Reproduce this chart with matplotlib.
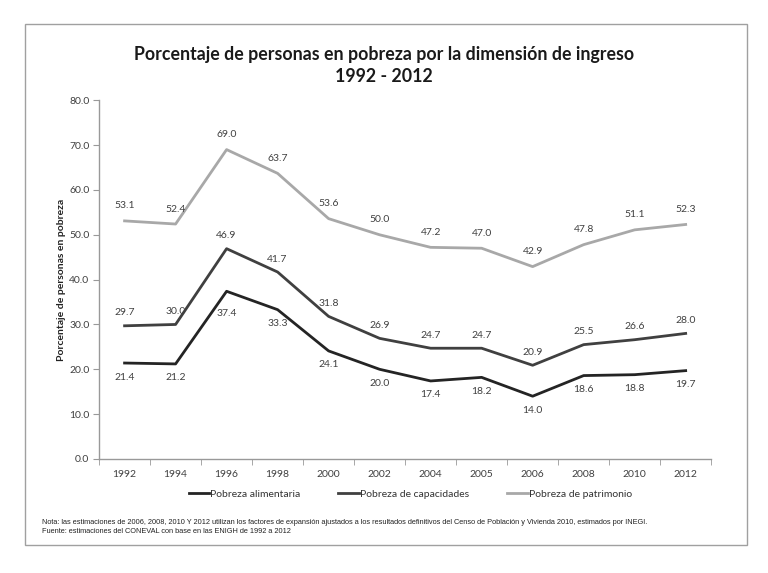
import matplotlib.pyplot as plt
import numpy as np
from matplotlib.patches import Rectangle

plt.rcParams["font.family"] = ["Lato", "DejaVu Sans"]

years = ["1992", "1994", "1996", "1998", "2000", "2002", "2004", "2005",
         "2006", "2008", "2010", "2012"]
alimentaria = [21.4, 21.2, 37.4, 33.3, 24.1, 20.0, 17.4, 18.2, 14.0, 18.6, 18.8, 19.7]
capacidades = [29.7, 30.0, 46.9, 41.7, 31.8, 26.9, 24.7, 24.7, 20.9, 25.5, 26.6, 28.0]
patrimonio = [53.1, 52.4, 69.0, 63.7, 53.6, 50.0, 47.2, 47.0, 42.9, 47.8, 51.1, 52.3]

c_ali = "#242424"
c_cap = "#404040"
c_pat = "#a8a8a8"
lab_col = "#404040"

fig = plt.figure(figsize=(7.68, 5.73), dpi=100)
ax = fig.add_axes([0.129, 0.199, 0.797, 0.626])
x = np.arange(len(years))

ax.plot(x, alimentaria, color=c_ali, lw=2.0, label="Pobreza alimentaria")
ax.plot(x, capacidades, color=c_cap, lw=2.0, label="Pobreza de capacidades")
ax.plot(x, patrimonio, color=c_pat, lw=2.0, label="Pobreza de patrimonio")

lab_style = dict(textcoords="offset pixels", ha="center", va="center",
                 fontsize=7.5, color=lab_col)
for i in x:
    ax.annotate("{:.1f}".format(patrimonio[i]), (i, patrimonio[i]), xytext=(0, 15), **lab_style)
    ax.annotate("{:.1f}".format(capacidades[i]), (i, capacidades[i]), xytext=(0, 13), **lab_style)
    dy = -22 if i == 2 else -14
    ax.annotate("{:.1f}".format(alimentaria[i]), (i, alimentaria[i]), xytext=(0, dy), **lab_style)

ax.set_xlim(-0.5, len(years) - 0.5)
ax.set_ylim(0, 80)
ax.set_yticks(np.arange(0, 81, 10))
ax.set_yticklabels(["{:.1f}".format(v) for v in np.arange(0, 81, 10)])
ax.set_xticks(x)
ax.set_xticklabels(years)
ax.set_xticks(np.arange(-0.5, len(years), 1), minor=True)
ax.tick_params(axis="x", which="major", length=0, pad=8, labelsize=7.5, labelcolor=lab_col)
ax.tick_params(axis="x", which="minor", length=4, color="#999999", direction="out")
ax.tick_params(axis="y", length=4, color="#999999", labelsize=7.5, labelcolor=lab_col, pad=3)
for s in ["top", "right"]:
    ax.spines[s].set_visible(False)
for s in ["left", "bottom"]:
    ax.spines[s].set_color("#999999")
    ax.spines[s].set_linewidth(1.0)

ax.set_ylabel("Porcentaje de personas en pobreza", fontsize=7.5, fontweight="bold",
              color="#222222", labelpad=2)

fig.text(0.5, 0.886, "Porcentaje de personas en pobreza por la dimensión de ingreso\n1992 - 2012",
         ha="center", va="center", fontsize=12.8, fontweight="bold", color="#1a1a1a",
         linespacing=1.4)

leg = fig.legend(loc="center", bbox_to_anchor=(0.534, 0.138), ncol=3, frameon=False,
                 fontsize=7.5, handlelength=2.0, handletextpad=0.1, columnspacing=3.6)
for t in leg.get_texts():
    t.set_color("#333333")

fig.text(0.055, 0.088,
         "Nota: las estimaciones de 2006, 2008, 2010 Y 2012 utilizan los factores de expansión "
         "ajustados a los resultados definitivos del Censo de Población y Vivienda 2010, estimados por INEGI.",
         fontsize=5.33, family=["Liberation Sans", "DejaVu Sans"], color="#222222", va="center")
fig.text(0.055, 0.073, "Fuente: estimaciones del CONEVAL con base en las ENIGH de 1992 a 2012",
         fontsize=5.33, family=["Liberation Sans", "DejaVu Sans"], color="#222222", va="center")

fig.patches.append(Rectangle((0.033, 0.049), 0.94, 0.909, transform=fig.transFigure,
                             fill=False, edgecolor="#a0a0a0", lw=1.0))

fig.savefig("out.png", dpi=100)
